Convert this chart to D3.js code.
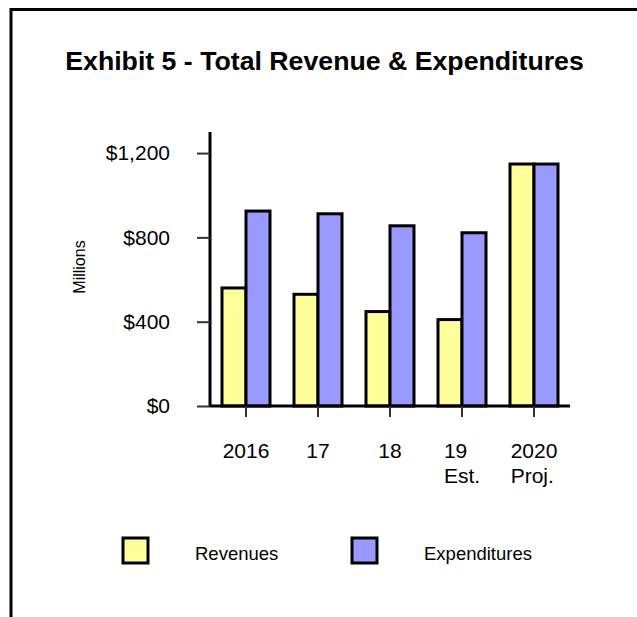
<!DOCTYPE html>
<html>
<head>
<meta charset="utf-8">
<script src="https://cdn.jsdelivr.net/npm/d3@7"></script>
<style>
  body { margin: 0; background: #fff; }
  svg { display: block; font-family: "Liberation Sans", Arial, sans-serif; }
  .axis path { stroke: #000; stroke-width: 3px; }
  .axis line { stroke: #333; stroke-width: 2px; }
  .axis text { fill: #000; font-size: 21px; }
</style>
</head>
<body>
<svg width="637" height="617"></svg>
<script>
// Data
const categories = ["2016", "17", "18", "19", "2020"];
const subLabels = ["", "", "", "Est.", "Proj."];
const revenues = [560, 530, 448, 410, 1148];
const expenditures = [925, 912, 855, 822, 1148];
const yTicks = [0, 400, 800, 1200];
const seriesNames = ["Revenues", "Expenditures"];
const seriesColors = ["#ffff99", "#9999ff"];

const svg = d3.select("svg");

// Frame (top and left edge only visible)
svg.append("path")
    .attr("d", "M11,617 V9.5 H637")
    .attr("fill", "none")
    .attr("stroke", "#000")
    .attr("stroke-width", 3);

// Title
svg.append("text")
    .attr("x", 324.5)
    .attr("y", 70)
    .attr("text-anchor", "middle")
    .attr("font-size", "26.7px")
    .attr("font-weight", "bold")
    .text("Exhibit 5 - Total Revenue & Expenditures");

const plot = {left: 210, right: 570, top: 132, bottom: 406};

// Scales
const xScale = d3.scaleBand()
    .domain(categories)
    .range([plot.left, plot.right])
    .padding(0);
const xSeries = d3.scaleBand()
    .domain(seriesNames)
    .range([0, xScale.bandwidth()])
    .paddingInner(0)
    .paddingOuter(0.5);
const yScale = d3.scaleLinear()
    .domain([0, 1300])
    .range([plot.bottom, plot.top]);

// Bars
const rows = categories.map(function(c, i) {
  return {cat: c, values: [revenues[i], expenditures[i]]};
});
const groups = svg.selectAll(".grp")
    .data(rows)
    .enter()
    .append("g")
    .attr("class", "grp")
    .attr("transform", function(d) { return "translate(" + xScale(d.cat) + ",0)"; });
groups.selectAll("rect")
    .data(function(d) { return d.values.map(function(v, j) { return {name: seriesNames[j], v: v, j: j}; }); })
    .enter()
    .append("rect")
    .attr("x", function(d) { return xSeries(d.name); })
    .attr("y", function(d) { return yScale(d.v); })
    .attr("width", xSeries.bandwidth())
    .attr("height", function(d) { return plot.bottom - yScale(d.v); })
    .attr("fill", function(d) { return seriesColors[d.j]; })
    .attr("stroke", "#000")
    .attr("stroke-width", 3);

// Axes
const yAxis = svg.append("g")
    .attr("class", "axis axis-y")
    .attr("transform", "translate(" + plot.left + ",0)")
    .call(d3.axisLeft(yScale)
        .tickValues(yTicks)
        .tickSize(13)
        .tickSizeOuter(0)
        .tickPadding(27)
        .tickFormat(function(d) { return "$" + d3.format(",")(d); }));
yAxis.select(".domain").attr("d", "M0," + plot.top + "V" + plot.bottom);

const xAxis = svg.append("g")
    .attr("class", "axis axis-x")
    .attr("transform", "translate(0," + plot.bottom + ")")
    .call(d3.axisBottom(xScale).tickSize(11).tickSizeOuter(0).tickFormat(""));
xAxis.select(".domain").attr("d", "M" + plot.left + ",0H" + plot.right);

// Category labels (multi-line, left aligned inside a centred block)
xAxis.selectAll(".tick").each(function(d, i) {
  const t = d3.select(this).select("text")
      .attr("y", 0).attr("dy", null)
      .attr("text-anchor", "start");
  const lines = [categories[i], subLabels[i]].filter(function(s) { return s; });
  lines.forEach(function(s, k) {
    t.append("tspan").attr("y", 52 + k * 25).text(s);
  });
  let w = 0;
  t.selectAll("tspan").each(function() { w = Math.max(w, this.getComputedTextLength()); });
  t.selectAll("tspan").attr("x", -w / 2);
});

// Y axis title
svg.append("text")
    .attr("transform", "translate(85,267) rotate(-90)")
    .attr("text-anchor", "middle")
    .attr("font-size", "16px")
    .text("Millions");

// Legend
const legendX = [123, 352];
const legend = svg.selectAll(".legend")
    .data(seriesNames)
    .enter()
    .append("g")
    .attr("class", "legend")
    .attr("transform", function(d, i) { return "translate(" + legendX[i] + ",538)"; });
legend.append("rect")
    .attr("width", 25)
    .attr("height", 25)
    .attr("fill", function(d, i) { return seriesColors[i]; })
    .attr("stroke", "#000")
    .attr("stroke-width", 3);
legend.append("text")
    .attr("x", 72)
    .attr("y", 22)
    .attr("font-size", "18.5px")
    .text(function(d) { return d; });
</script>
</body>
</html>
